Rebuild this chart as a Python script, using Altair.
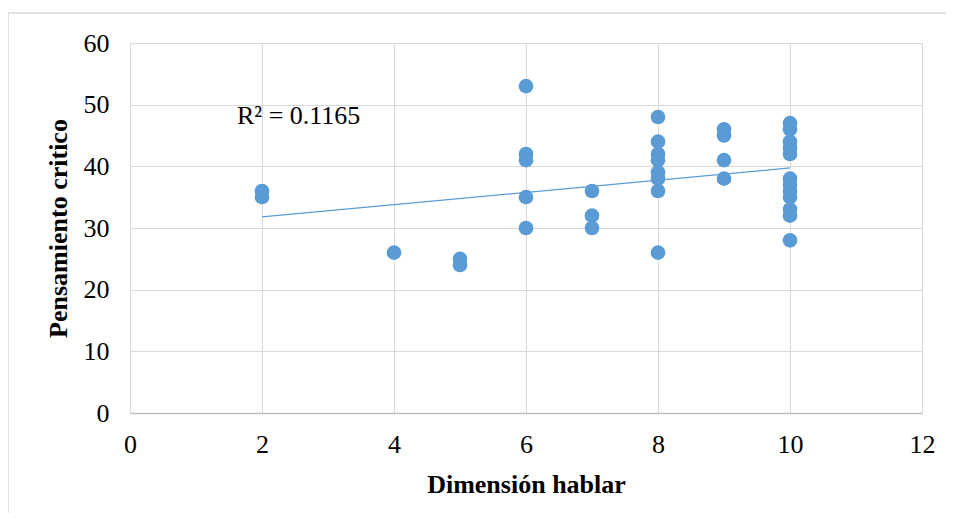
import altair as alt
import pandas as pd

# Data
dimension_hablar = [2, 2, 4, 5, 5,
                    6, 6, 6, 6, 6,
                    7, 7, 7,
                    8, 8, 8, 8, 8, 8, 8, 8,
                    9, 9, 9, 9,
                    10, 10, 10, 10, 10, 10, 10, 10, 10, 10, 10, 10]
pensamiento_critico = [36, 35, 26, 25, 24,
                       53, 42, 41, 35, 30,
                       36, 32, 30,
                       48, 44, 42, 41, 39, 38, 36, 26,
                       46, 45, 41, 38,
                       47, 46, 44, 43, 42, 38, 37, 36, 35, 33, 32, 28]
x_ticks = [0, 2, 4, 6, 8, 10, 12]
y_ticks = [0, 10, 20, 30, 40, 50, 60]
r2_label = "R² = 0.1165"

df = pd.DataFrame({"x": dimension_hablar, "y": pensamiento_critico})

FONT = "Liberation Serif"
BLUE = "#5B9BD5"
FS = 26

xs = alt.Scale(domain=[0, 12], nice=False, zero=False)
ys = alt.Scale(domain=[0, 60], nice=False)

x_enc = alt.X("x:Q", scale=xs,
              axis=alt.Axis(values=x_ticks, format="d", title="Dimensión hablar",
                            grid=True, gridColor="#D9D9D9", gridWidth=1,
                            domainColor="#BFBFBF", domainWidth=1.5, ticks=False,
                            labelFlush=False,
                            labelFont=FONT, labelFontSize=FS, labelColor="black",
                            labelPadding=18,
                            titleFont=FONT, titleFontSize=FS, titleFontWeight="bold",
                            titleColor="black", titlePadding=14))
y_enc = alt.Y("y:Q", scale=ys,
              axis=alt.Axis(values=y_ticks, format="d", title="Pensamiento critico",
                            grid=True, gridColor="#D9D9D9", gridWidth=1,
                            domain=False, ticks=False, labelFlush=False,
                            labelFont=FONT, labelFontSize=FS, labelColor="black",
                            labelPadding=21,
                            titleFont=FONT, titleFontSize=FS, titleFontWeight="bold",
                            titleColor="black", titlePadding=12))

border = alt.Chart(pd.DataFrame({"a": [0]})).mark_rect(
    fill=None, stroke="#D9D9D9", strokeWidth=1.5
).encode(x=alt.value(-122), x2=alt.value(900), y=alt.value(-30), y2=alt.value(600))

points = alt.Chart(df).mark_circle(size=215, color=BLUE, opacity=1).encode(
    x=x_enc, y=y_enc
)

trend = alt.Chart(df).transform_regression("x", "y").mark_line(
    color=BLUE, strokeWidth=1.3
).encode(x=alt.X("x:Q", scale=xs), y=alt.Y("y:Q", scale=ys))

r2 = alt.Chart(pd.DataFrame({"t": [r2_label]})).mark_text(
    font=FONT, fontSize=FS, color="black", align="left", baseline="middle"
).encode(text="t:N", x=alt.value(107), y=alt.value(73))

chart = alt.layer(border, trend, points, r2).properties(
    width=792, height=370,
    autosize=alt.AutoSizeParams(type="none"),
    padding={"left": 122, "top": 35, "right": 24, "bottom": 100},
).configure_view(stroke=None).configure(background="white")

chart.save("out.html", embed_options={"renderer": "svg", "actions": False})
